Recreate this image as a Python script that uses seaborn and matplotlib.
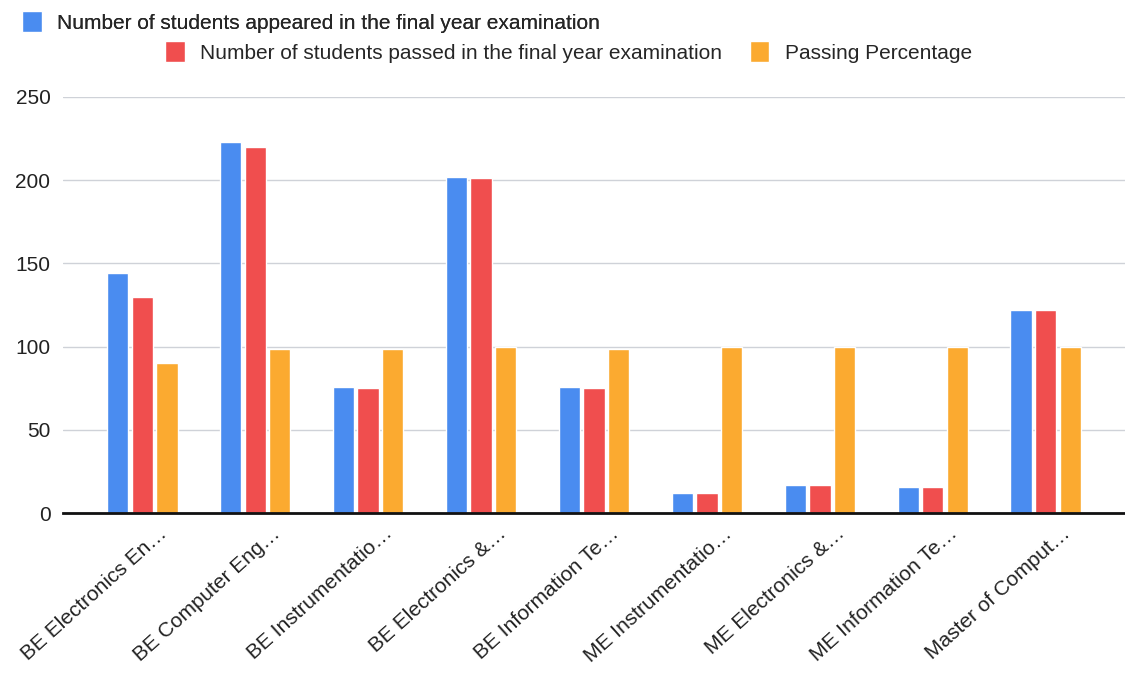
import numpy as np
import pandas as pd
import matplotlib
matplotlib.use("Agg")
import matplotlib.pyplot as plt
import matplotlib.transforms as mtransforms
import seaborn as sns

# Data
courses = [
    "BE Electronics En…", "BE Computer Eng…", "BE Instrumentatio…",
    "BE Electronics &…", "BE Information Te…", "ME Instrumentatio…",
    "ME Electronics &…", "ME Information Te…", "Master of Comput…",
]
appeared = [144, 223, 76, 202, 76, 12, 17, 16, 122]
passed = [130, 220, 75, 201, 75, 12, 17, 16, 122]
passing_pct = [90.3, 98.7, 98.7, 99.5, 98.7, 100, 100, 100, 100]

series_names = [
    "Number of students appeared in the final year examination",
    "Number of students passed in the final year examination",
    "Passing Percentage",
]
colors = ["#4a8cf0", "#f04e4e", "#fbaa30"]
y_ticks = [0, 50, 100, 150, 200, 250]

df = pd.DataFrame({
    "course": courses * 3,
    "series": np.repeat(series_names, len(courses)),
    "value": appeared + passed + passing_pct,
})

sns.set_style("white")
plt.rcParams["font.family"] = ["Liberation Sans", "DejaVu Sans"]
FS = 15

fig = plt.figure(figsize=(11.25, 6.77), dpi=100)
ax = fig.add_axes([0.056, 0.242, 0.944, 0.615])

sns.barplot(
    data=df, x="course", y="value", hue="series",
    palette=colors, saturation=1, width=0.66, gap=0.15, ax=ax,
)

ax.set_xlim(-0.7, 8.7)
ax.set_ylim(0, 250)
ax.set_yticks(y_ticks)
ax.set_yticklabels([str(t) for t in y_ticks], fontsize=FS, color="#222222")
ax.set_xlabel("")
ax.set_ylabel("")
ax.yaxis.grid(True, color="#cfd2d8", linewidth=1)
ax.set_axisbelow(True)
for s in ["top", "right", "left"]:
    ax.spines[s].set_visible(False)
ax.spines["bottom"].set_color("#111111")
ax.spines["bottom"].set_linewidth(2)
ax.tick_params(axis="both", length=0, pad=9)

# rotated category labels
offset = mtransforms.ScaledTranslation(0.22, -0.05, fig.dpi_scale_trans)
for lbl in ax.get_xticklabels():
    lbl.set_rotation(42)
    lbl.set_ha("right")
    lbl.set_va("center")
    lbl.set_rotation_mode("anchor")
    lbl.set_fontsize(FS)
    lbl.set_color("#222222")
    lbl.set_transform(lbl.get_transform() + offset)

# legend split in two rows like the original
handles, labels = ax.get_legend_handles_labels()
ax.legend_.remove()
kw = dict(frameon=False, fontsize=FS, handlelength=0.95, handleheight=1.15,
          handletextpad=0.75, borderpad=0, borderaxespad=0, loc="center left")
leg1 = fig.legend(handles[:1], labels[:1], bbox_to_anchor=(0.0196, 0.9675), **kw)
fig.legend(handles[1:], labels[1:], ncol=2, columnspacing=1.3,
           bbox_to_anchor=(0.1467, 0.923), **kw)
fig.add_artist(leg1)

fig.savefig("out.png", dpi=100)
